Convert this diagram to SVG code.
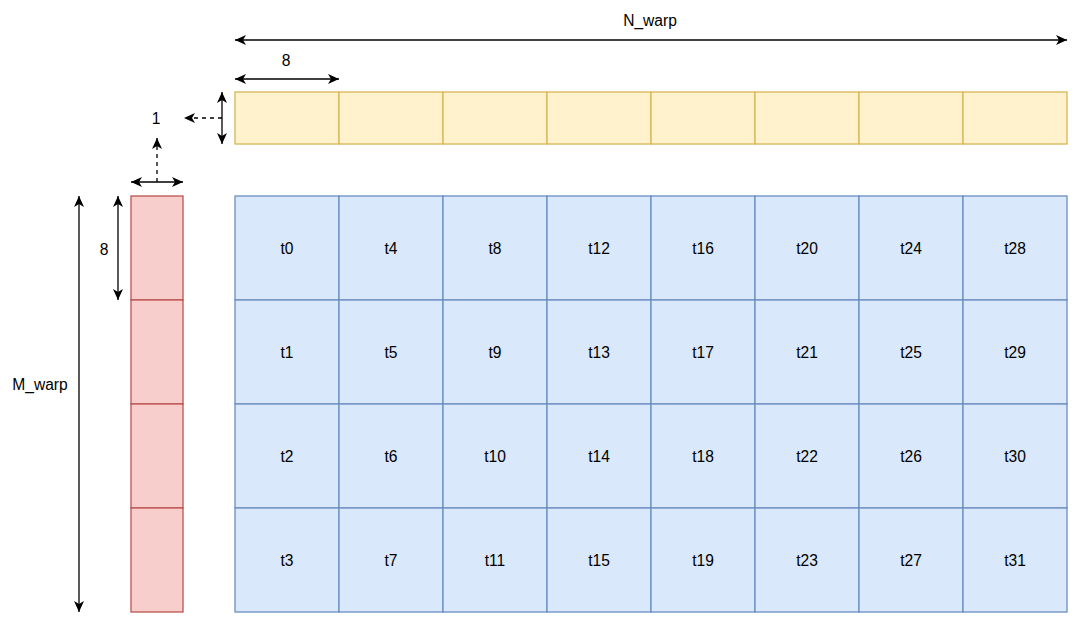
<svg xmlns="http://www.w3.org/2000/svg" width="1080" height="625" viewBox="0 0 1080 625">
<style>
text{font-family:"Liberation Sans",Arial,sans-serif;font-size:15.6px;fill:#000;text-anchor:middle;dominant-baseline:central}
.y{fill:#fff2cc;stroke:#d6b656;stroke-width:1.3}
.r{fill:#f8cecc;stroke:#b85450;stroke-width:1.3}
.b{fill:#dae8fc;stroke:#6c8ebf;stroke-width:1.3}
.a{fill:none;stroke:#000;stroke-width:1.3}
.d{stroke-dasharray:4 4}
</style>
<defs>
<marker id="ah" markerUnits="userSpaceOnUse" markerWidth="12" markerHeight="12" viewBox="0 0 12 12" refX="11" refY="6" orient="auto-start-reverse">
<path d="M0,1 L11,6 L0,11 L3,6 Z" fill="#000"/>
</marker>
</defs>
<rect width="1080" height="625" fill="#fff"/>
<g id="yellow-row">
<rect class="y" x="235" y="92" width="104" height="52"/>
<rect class="y" x="339" y="92" width="104" height="52"/>
<rect class="y" x="443" y="92" width="104" height="52"/>
<rect class="y" x="547" y="92" width="104" height="52"/>
<rect class="y" x="651" y="92" width="104" height="52"/>
<rect class="y" x="755" y="92" width="104" height="52"/>
<rect class="y" x="859" y="92" width="104" height="52"/>
<rect class="y" x="963" y="92" width="104" height="52"/>
</g>
<g id="red-column">
<rect class="r" x="131" y="196" width="52" height="104"/>
<rect class="r" x="131" y="300" width="52" height="104"/>
<rect class="r" x="131" y="404" width="52" height="104"/>
<rect class="r" x="131" y="508" width="52" height="104"/>
</g>
<g id="blue-grid">
<g id="r0">
<rect class="b" x="235" y="196" width="104" height="104"/><text x="287" y="248">t0</text>
<rect class="b" x="339" y="196" width="104" height="104"/><text x="391" y="248">t4</text>
<rect class="b" x="443" y="196" width="104" height="104"/><text x="495" y="248">t8</text>
<rect class="b" x="547" y="196" width="104" height="104"/><text x="599" y="248">t12</text>
<rect class="b" x="651" y="196" width="104" height="104"/><text x="703" y="248">t16</text>
<rect class="b" x="755" y="196" width="104" height="104"/><text x="807" y="248">t20</text>
<rect class="b" x="859" y="196" width="104" height="104"/><text x="911" y="248">t24</text>
<rect class="b" x="963" y="196" width="104" height="104"/><text x="1015" y="248">t28</text>
</g>
<g id="r1">
<rect class="b" x="235" y="300" width="104" height="104"/><text x="287" y="352">t1</text>
<rect class="b" x="339" y="300" width="104" height="104"/><text x="391" y="352">t5</text>
<rect class="b" x="443" y="300" width="104" height="104"/><text x="495" y="352">t9</text>
<rect class="b" x="547" y="300" width="104" height="104"/><text x="599" y="352">t13</text>
<rect class="b" x="651" y="300" width="104" height="104"/><text x="703" y="352">t17</text>
<rect class="b" x="755" y="300" width="104" height="104"/><text x="807" y="352">t21</text>
<rect class="b" x="859" y="300" width="104" height="104"/><text x="911" y="352">t25</text>
<rect class="b" x="963" y="300" width="104" height="104"/><text x="1015" y="352">t29</text>
</g>
<g id="r2">
<rect class="b" x="235" y="404" width="104" height="104"/><text x="287" y="456">t2</text>
<rect class="b" x="339" y="404" width="104" height="104"/><text x="391" y="456">t6</text>
<rect class="b" x="443" y="404" width="104" height="104"/><text x="495" y="456">t10</text>
<rect class="b" x="547" y="404" width="104" height="104"/><text x="599" y="456">t14</text>
<rect class="b" x="651" y="404" width="104" height="104"/><text x="703" y="456">t18</text>
<rect class="b" x="755" y="404" width="104" height="104"/><text x="807" y="456">t22</text>
<rect class="b" x="859" y="404" width="104" height="104"/><text x="911" y="456">t26</text>
<rect class="b" x="963" y="404" width="104" height="104"/><text x="1015" y="456">t30</text>
</g>
<g id="r3">
<rect class="b" x="235" y="508" width="104" height="104"/><text x="287" y="560">t3</text>
<rect class="b" x="339" y="508" width="104" height="104"/><text x="391" y="560">t7</text>
<rect class="b" x="443" y="508" width="104" height="104"/><text x="495" y="560">t11</text>
<rect class="b" x="547" y="508" width="104" height="104"/><text x="599" y="560">t15</text>
<rect class="b" x="651" y="508" width="104" height="104"/><text x="703" y="560">t19</text>
<rect class="b" x="755" y="508" width="104" height="104"/><text x="807" y="560">t23</text>
<rect class="b" x="859" y="508" width="104" height="104"/><text x="911" y="560">t27</text>
<rect class="b" x="963" y="508" width="104" height="104"/><text x="1015" y="560">t31</text>
</g>
</g>
<g id="connectors">
<line class="a" x1="235" y1="40" x2="1067" y2="40" marker-start="url(#ah)" marker-end="url(#ah)"/>
<line class="a" x1="235" y1="79" x2="339" y2="79" marker-start="url(#ah)" marker-end="url(#ah)"/>
<line class="a" x1="222" y1="92" x2="222" y2="144" marker-start="url(#ah)" marker-end="url(#ah)"/>
<line class="a d" x1="222" y1="118" x2="184" y2="118" marker-end="url(#ah)"/>
<line class="a" x1="131" y1="182" x2="183" y2="182" marker-start="url(#ah)" marker-end="url(#ah)"/>
<line class="a d" x1="157" y1="182" x2="157" y2="138" marker-end="url(#ah)"/>
<line class="a" x1="118" y1="196" x2="118" y2="300" marker-start="url(#ah)" marker-end="url(#ah)"/>
<line class="a" x1="79" y1="196" x2="79" y2="612" marker-start="url(#ah)" marker-end="url(#ah)"/>
</g>
<g id="labels">
<text x="650" y="20">N_warp</text>
<text x="286" y="60">8</text>
<text x="156" y="118">1</text>
<text x="104" y="249">8</text>
<text x="40" y="384">M_warp</text>
</g>
</svg>
